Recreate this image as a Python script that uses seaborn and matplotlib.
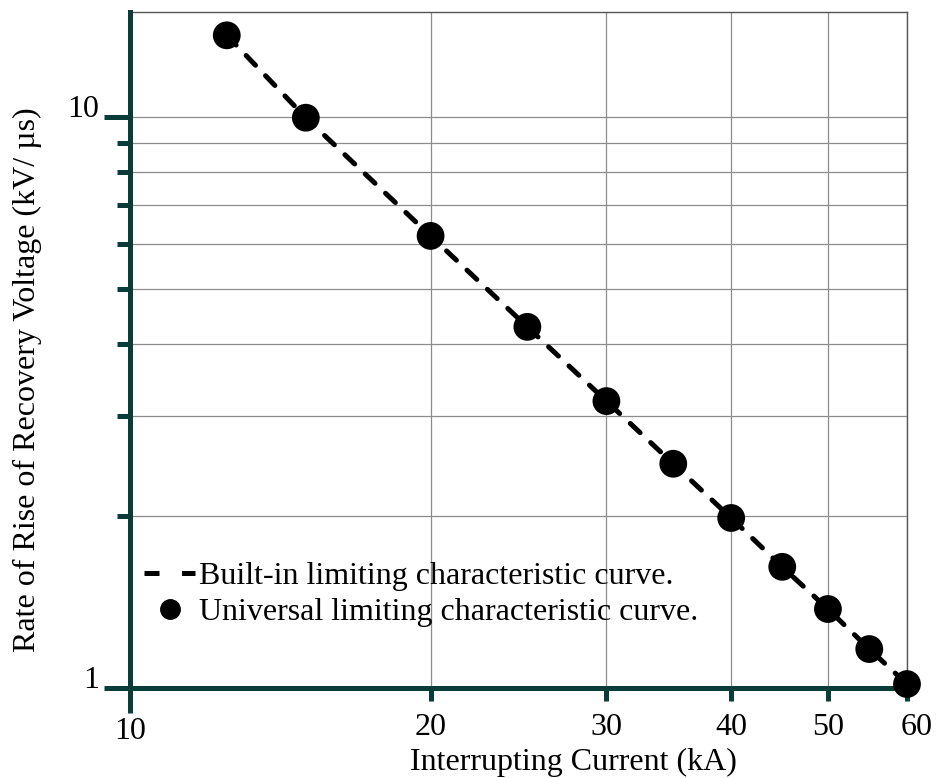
import matplotlib
matplotlib.use("Agg")
import matplotlib.pyplot as plt
import matplotlib.ticker as mticker
import matplotlib.transforms as mtransforms
from matplotlib.lines import Line2D
import seaborn as sns
import pandas as pd

# ---- data ----
current_kA = [12.5, 15, 20, 25, 30, 35, 40, 45, 50, 55, 60]
rrrv_kV_us = [13.9, 9.97, 6.19, 4.29, 3.18, 2.47, 1.985, 1.63, 1.375, 1.17, 1.016]
x_major = [10]
x_minor = [20, 30, 40, 50, 60]
y_major = [1, 10]
y_minor = [2, 3, 4, 5, 6, 7, 8, 9]
legend_labels = ["Built-in limiting characteristic curve.",
                 "Universal limiting characteristic curve."]
xlabel = "Interrupting Current (kA)"
ylabel = "Rate of Rise of Recovery Voltage (kV/ \u00b5s)"

df = pd.DataFrame({"I": current_kA, "R": rrrv_kV_us})

sns.set_theme(style="white")
plt.rcParams["font.family"] = ["Liberation Serif", "DejaVu Serif"]
plt.rcParams["text.color"] = "black"
plt.rcParams["axes.labelcolor"] = "black"
plt.rcParams["xtick.labelcolor"] = "black"
plt.rcParams["ytick.labelcolor"] = "black"
FS = 23
TEAL = "#0a3c3a"
GRID = "#8c8c8c"

fig = plt.figure(figsize=(9.39, 7.78), dpi=100)
ax = fig.add_axes([130/939, 90/778, 777/939, 676/778])

sns.lineplot(data=df, x="I", y="R", ax=ax, color="black", linewidth=3.6,
             dashes=False, zorder=4, clip_on=False)
ax.lines[-1].set_dashes((2.7, 2.9))
ax.lines[-1].set_dash_capstyle("round")
sns.scatterplot(data=df, x="I", y="R", ax=ax, color="black", s=400,
                edgecolor="none", zorder=6, clip_on=False)

ax.set_xscale("log")
ax.set_yscale("log")
ax.set_xlim(10, 60)
ax.set_ylim(1, 15.27)

ax.xaxis.set_major_locator(mticker.FixedLocator(x_major))
ax.xaxis.set_minor_locator(mticker.FixedLocator(x_minor))
ax.xaxis.set_major_formatter(mticker.FixedFormatter([str(v) for v in x_major]))
ax.xaxis.set_minor_formatter(mticker.FixedFormatter([str(v) for v in x_minor]))
ax.yaxis.set_major_locator(mticker.FixedLocator(y_major))
ax.yaxis.set_minor_locator(mticker.FixedLocator(y_minor))
ax.yaxis.set_major_formatter(mticker.FixedFormatter([str(v) for v in y_major]))
ax.yaxis.set_minor_formatter(mticker.NullFormatter())

ax.tick_params(axis="x", which="major", direction="out", length=18, width=3.6,
               color=TEAL, labelsize=FS, pad=3, bottom=True, labelcolor="black")
ax.tick_params(axis="x", which="minor", direction="out", length=9, width=3.6,
               color=TEAL, labelsize=FS, pad=9, bottom=True, labelcolor="black")
ax.tick_params(axis="y", which="major", direction="out", length=19, width=3.6,
               color=TEAL, labelsize=FS, pad=3, left=True, labelcolor="black")
ax.tick_params(axis="y", which="minor", direction="out", length=9.5, width=3.6,
               color=TEAL, left=True)
for lab in ax.get_yticklabels():
    lab.set_verticalalignment("baseline")

# grid
for v in x_minor:
    ax.axvline(v, color=GRID, linewidth=0.9, zorder=1)
for v in y_minor + [10]:
    ax.axhline(v, color=GRID, linewidth=0.9, zorder=1)

for side in ["left", "bottom"]:
    ax.spines[side].set_color(TEAL)
    ax.spines[side].set_linewidth(3.6)
    ax.spines[side].set_zorder(5)
for side in ["top", "right"]:
    ax.spines[side].set_color("#555555")
    ax.spines[side].set_linewidth(1.0)

ax.set_xlabel(xlabel, fontsize=FS, va="center", color="black")
ax.set_ylabel(ylabel, fontsize=FS, va="center", color="black")
ax.xaxis.set_label_coords((573 - 130) / 777, -(762 - 688) / 676)
ax.yaxis.set_label_coords(-(130 - 27) / 777, (688 - 380) / 676)

h1 = Line2D([], [], color="black", linewidth=3.6, dashes=(3.0, 4.5))
h2 = Line2D([], [], color="black", linestyle="none", marker="o", markersize=14)
leg = ax.legend([h1, h2], legend_labels, loc="upper left",
                bbox_to_anchor=(14 / 777, (688 - 562) / 676), frameon=False,
                fontsize=FS, handlelength=1.6, handletextpad=0.12,
                labelspacing=0.2, borderpad=0, borderaxespad=0,
                labelcolor="black")

fig.canvas.draw()
minor_labels = ax.xaxis.get_minorticklabels()
if minor_labels:
    lab60 = minor_labels[-1]
    lab60.set_transform(lab60.get_transform() +
                        mtransforms.ScaledTranslation(10 / 100, 0, fig.dpi_scale_trans))

fig.savefig("out.png", dpi=100)
